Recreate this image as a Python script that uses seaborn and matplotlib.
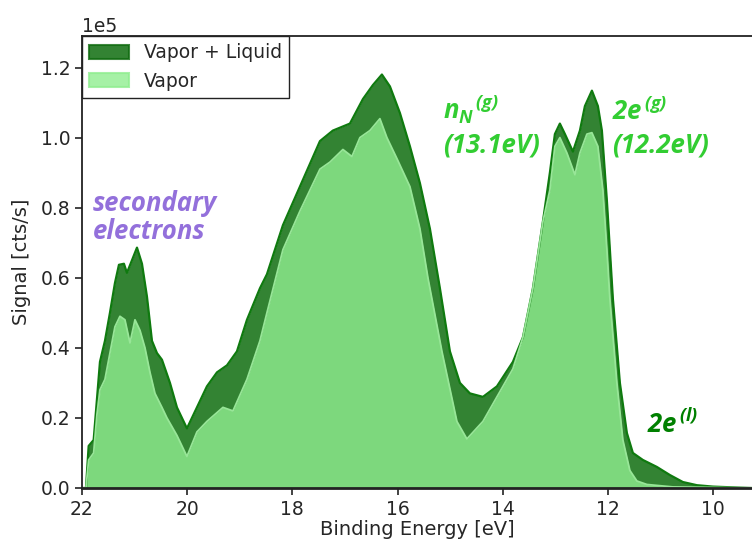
import numpy as np
import matplotlib
matplotlib.use("Agg")
import matplotlib.pyplot as plt
import seaborn as sns
import pandas as pd
from matplotlib.patches import Patch

# ---- data (signal in units of 1e5 cts/s) ----
e_total = [22.0, 21.924, 21.873, 21.778, 21.658, 21.563, 21.468, 21.373, 21.297, 21.202,
           21.145, 21.049, 20.954, 20.859, 20.764, 20.669, 20.574, 20.479, 20.327, 20.194,
           20.004, 19.814, 19.624, 19.433, 19.243, 19.053, 18.863, 18.616, 18.483, 18.179,
           17.856, 17.475, 17.230, 16.905, 16.658, 16.468, 16.297, 16.144, 15.954, 15.764,
           15.574, 15.384, 15.194, 15.004, 14.814, 14.624, 14.376, 14.110, 13.806, 13.616,
           13.426, 13.236, 13.103, 13.008, 12.913, 12.817, 12.665, 12.532, 12.437, 12.304,
           12.190, 12.114, 12.057, 12.019, 11.962, 11.905, 11.772, 11.639, 11.525, 11.335,
           11.068, 10.821, 10.574, 10.308, 10.004, 9.491, 9.262]
s_total = [0.0, 0.0, 0.12, 0.137, 0.36, 0.42, 0.50, 0.585, 0.637, 0.64,
           0.614, 0.65, 0.686, 0.64, 0.546, 0.42, 0.385, 0.366, 0.30, 0.23,
           0.17, 0.23, 0.29, 0.33, 0.35, 0.39, 0.48, 0.57, 0.61, 0.75,
           0.86, 0.99, 1.02, 1.04, 1.11, 1.15, 1.18, 1.146, 1.07, 0.975,
           0.87, 0.74, 0.57, 0.39, 0.30, 0.27, 0.26, 0.29, 0.36, 0.43,
           0.57, 0.76, 0.90, 1.01, 1.04, 1.01, 0.96, 1.02, 1.09, 1.134,
           1.09, 1.02, 0.90, 0.82, 0.68, 0.54, 0.30, 0.157, 0.10, 0.08,
           0.06, 0.037, 0.017, 0.008, 0.004, 0.001, 0.0]

e_vapor = [22.0, 21.924, 21.873, 21.778, 21.715, 21.658, 21.563, 21.468, 21.373, 21.278,
           21.183, 21.087, 20.992, 20.897, 20.802, 20.707, 20.612, 20.479, 20.384, 20.194,
           20.004, 19.814, 19.624, 19.319, 19.129, 18.863, 18.616, 18.483, 18.179, 17.856,
           17.475, 17.285, 17.038, 16.867, 16.715, 16.525, 16.335, 16.202, 16.011, 15.764,
           15.574, 15.422, 15.156, 14.871, 14.681, 14.376, 14.110, 13.806, 13.616, 13.426,
           13.236, 13.103, 13.008, 12.913, 12.779, 12.627, 12.532, 12.399, 12.304, 12.190,
           12.095, 12.019, 11.962, 11.829, 11.715, 11.582, 11.449, 11.259, 10.764, 9.262]
s_vapor = [0.0, 0.0, 0.08, 0.10, 0.21, 0.28, 0.31, 0.385, 0.46, 0.49,
           0.48, 0.414, 0.48, 0.45, 0.40, 0.33, 0.27, 0.23, 0.20, 0.15,
           0.09, 0.16, 0.19, 0.23, 0.22, 0.31, 0.42, 0.50, 0.68, 0.79,
           0.91, 0.93, 0.966, 0.946, 1.00, 1.02, 1.054, 1.00, 0.94, 0.86,
           0.74, 0.60, 0.39, 0.19, 0.14, 0.19, 0.26, 0.34, 0.43, 0.57,
           0.76, 0.85, 0.975, 1.00, 0.956, 0.894, 0.956, 1.01, 1.014, 0.975,
           0.85, 0.68, 0.54, 0.30, 0.137, 0.05, 0.02, 0.01, 0.003, 0.0]

labels = ["Vapor + Liquid", "Vapor"]
SCALE = 1e5
ANN_FONT = "Open Sans"

sns.set_style("ticks")
plt.rcParams['font.family'] = ['DejaVu Sans']
plt.rcParams['mathtext.fontset'] = 'custom'
plt.rcParams['mathtext.rm'] = ANN_FONT + ':bold:italic'
plt.rcParams['mathtext.it'] = ANN_FONT + ':bold:italic'
plt.rcParams['mathtext.bf'] = ANN_FONT + ':bold:italic'

df_t = pd.DataFrame({"E": e_total, "S": np.array(s_total) * SCALE})
df_v = pd.DataFrame({"E": e_vapor, "S": np.array(s_vapor) * SCALE})

fig = plt.figure(figsize=(7.52, 5.41), dpi=100)
ax = fig.add_axes([0.109, 0.098, 0.891, 0.8355])

ax.fill_between(df_t["E"], 0, df_t["S"], color="darkgreen", alpha=0.8, linewidth=0)
sns.lineplot(data=df_t, x="E", y="S", ax=ax, color="#0f7a0f", linewidth=1.6, sort=False)
ax.fill_between(df_v["E"], 0, df_v["S"], color="lightgreen", alpha=0.8, linewidth=0)
sns.lineplot(data=df_v, x="E", y="S", ax=ax, color="#98e698", linewidth=1.3, sort=False)

ax.set_xlim(22, 9.26)
ax.set_ylim(0, 1.29e5)
ax.set_xticks([22, 20, 18, 16, 14, 12, 10])
ax.ticklabel_format(style='sci', axis='y', scilimits=(0, 0))
ax.yaxis.get_offset_text().set_fontsize(13.5)
ax.tick_params(labelsize=13.5, width=1.2, length=5, color="#222222")
for s in ["left", "bottom", "top"]:
    ax.spines[s].set_color("#222222")
    ax.spines[s].set_linewidth(1.3)
ax.spines["bottom"].set_linewidth(2.0)
ax.spines["right"].set_visible(False)
ax.set_xlabel("Binding Energy [eV]", fontsize=14, labelpad=1)
ax.set_ylabel("Signal [cts/s]", fontsize=14, labelpad=7)

handles = [Patch(facecolor="darkgreen", edgecolor="#0f6a0f", alpha=0.8, linewidth=1.5),
           Patch(facecolor="lightgreen", edgecolor="lightgreen", alpha=0.8, linewidth=1.5)]
leg = ax.legend(handles, labels, loc="upper left", fontsize=13.5, fancybox=False,
                framealpha=1, edgecolor="#222222", borderaxespad=0,
                handlelength=2.1, handleheight=0.75, labelspacing=0.5)
leg.get_frame().set_linewidth(1.0)

ann = dict(fontsize=18.5, fontweight="bold", style="italic", family=[ANN_FONT, "DejaVu Sans"])
ax.text(21.79, 0.85e5, "secondary\nelectrons", color="mediumpurple", ha="left", va="top",
        linespacing=1.05, **ann)
ax.text(15.14, 1.051e5, r"$n_N$$^{\,(g)}$", color="limegreen", ha="left", va="baseline", **ann)
ax.text(15.14, 0.957e5, "(13.1eV)", color="limegreen", ha="left", va="baseline", **ann)
ax.text(11.92, 1.051e5, r"2e$^{\,(g)}$", color="limegreen", ha="left", va="baseline", **ann)
ax.text(11.92, 0.957e5, "(12.2eV)", color="limegreen", ha="left", va="baseline", **ann)
ax.text(11.26, 0.157e5, r"2e$^{\,(l)}$", color="green", ha="left", va="baseline", **ann)

fig.savefig("out.png", dpi=100)
